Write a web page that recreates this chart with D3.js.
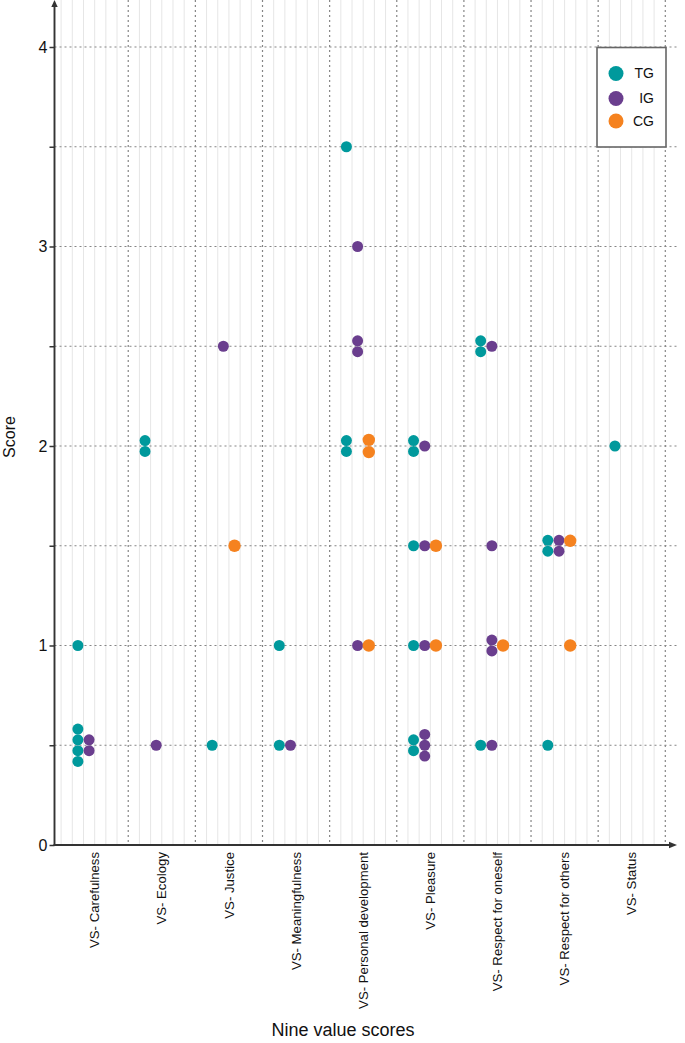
<!DOCTYPE html>
<html>
<head>
<meta charset="utf-8">
<script src="https://cdn.jsdelivr.net/npm/d3@7"></script>
<style>
  html, body { margin: 0; padding: 0; background: #fff; }
  svg { display: block; font-family: "Liberation Sans", Arial, sans-serif; }
</style>
</head>
<body>
<div id="chart"></div>
<script>
// ---- data ----
const categories = [
  "VS- Carefulness", "VS- Ecology", "VS- Justice", "VS- Meaningfulness",
  "VS- Personal development", "VS- Pleasure", "VS- Respect for oneself",
  "VS- Respect for others", "VS- Status"
];
const groups = ["TG", "IG", "CG"];
// one list of individual scores per category, per group
const tgScores = [
  [1, 0.5, 0.5, 0.5, 0.5],
  [2, 2],
  [0.5],
  [1, 0.5],
  [3.5, 2, 2],
  [2, 2, 1.5, 1, 0.5, 0.5],
  [2.5, 2.5, 0.5],
  [1.5, 1.5, 0.5],
  [2]
];
const igScores = [
  [0.5, 0.5],
  [0.5],
  [2.5],
  [0.5],
  [3, 2.5, 2.5, 1],
  [2, 1.5, 1, 0.5, 0.5, 0.5],
  [2.5, 1.5, 1, 1, 0.5],
  [1.5, 1.5],
  []
];
const cgScores = [
  [],
  [],
  [1.5],
  [],
  [2, 2, 1],
  [1.5, 1],
  [1],
  [1.525, 1],
  []
];
const yTicks = [0, 0.5, 1, 1.5, 2, 2.5, 3, 3.5, 4];
const yTickLabels = ["0", "", "1", "", "2", "", "3", "", "4"];

// ---- styles ----
const colors = { TG: "#00999c", IG: "#6a3e8e", CG: "#f5821f" };
const radius = { TG: 5.5, IG: 5.5, CG: 6.2 };

const W = 685, H = 1043;
const svg = d3.select("#chart").append("svg").attr("width", W).attr("height", H);

const axisX = 54.5, axisY = 845;
const x = d3.scaleBand().domain(categories).range([61.1, 665.3]).padding(0);
const sub = x.bandwidth() / 6;
const xg = d3.scalePoint().domain(groups).range([1.5 * sub, 3.5 * sub]);
const y = d3.scaleLinear().domain([0, 4]).range([axisY, 47]);

// light sub-grid lines
const subLines = [x(categories[0])];
categories.forEach(c => { for (let k = 1; k <= 5; k++) subLines.push(x(c) + k * sub); });
svg.append("g").selectAll("line").data(subLines).join("line")
  .attr("x1", d => d).attr("x2", d => d).attr("y1", 0).attr("y2", axisY)
  .attr("stroke", "#e6e6e6").attr("stroke-width", 1);

// dashed category separators
svg.append("g").selectAll("line").data(categories).join("line")
  .attr("x1", d => x(d) + x.bandwidth()).attr("x2", d => x(d) + x.bandwidth())
  .attr("y1", 0).attr("y2", axisY)
  .attr("stroke", "#858585").attr("stroke-width", 1.2).attr("stroke-dasharray", "2,3");

// dashed horizontal grid
svg.append("g").selectAll("line").data(yTicks.filter(d => d > 0)).join("line")
  .attr("x1", axisX).attr("x2", 678)
  .attr("y1", d => y(d)).attr("y2", d => y(d))
  .attr("stroke", "#858585").attr("stroke-width", 1.2).attr("stroke-dasharray", "2,3");

// y axis
const yAxis = svg.append("g").attr("transform", `translate(${axisX},0)`)
  .call(d3.axisLeft(y).tickValues(yTicks).tickSize(5).tickPadding(2)
    .tickFormat((d, i) => yTickLabels[i]));
yAxis.select(".domain").remove();
yAxis.selectAll(".tick line").attr("stroke", "#333").attr("stroke-width", 1.5);
yAxis.selectAll(".tick text").style("font-size", "16px").attr("fill", "#111")
  .style("font-family", "Liberation Sans, Arial, sans-serif");

// x axis
const xAxis = svg.append("g").attr("transform", `translate(0,${axisY})`)
  .call(d3.axisBottom(x).tickSize(0));
xAxis.select(".domain").remove();
xAxis.selectAll(".tick text")
  .attr("transform", "rotate(-90)")
  .attr("x", -7).attr("y", 0).attr("dy", "0.35em")
  .style("text-anchor", "end")
  .style("font-size", "13.2px").attr("fill", "#111")
  .style("font-family", "Liberation Sans, Arial, sans-serif");

// axis lines with arrows
svg.append("line").attr("x1", axisX).attr("x2", axisX).attr("y1", axisY + 1).attr("y2", 5)
  .attr("stroke", "#333").attr("stroke-width", 1.9);
svg.append("path").attr("d", `M${axisX},0 L${axisX - 3.2},7 L${axisX + 3.2},7 Z`).attr("fill", "#333");
svg.append("line").attr("x1", axisX - 1).attr("x2", 671).attr("y1", axisY).attr("y2", axisY)
  .attr("stroke", "#333").attr("stroke-width", 1.9);
svg.append("path").attr("d", `M677,${axisY} L669,${axisY - 3.2} L669,${axisY + 3.2} Z`).attr("fill", "#333");

// axis titles
svg.append("text").attr("transform", `translate(15,437) rotate(-90)`)
  .attr("text-anchor", "middle").style("font-size", "16px").attr("fill", "#111").text("Score");
svg.append("text").attr("x", 343).attr("y", 1036)
  .attr("text-anchor", "middle").style("font-size", "18px").attr("fill", "#111").text("Nine value scores");

// points
const seriesByGroup = { TG: tgScores, IG: igScores, CG: cgScores };
const points = [];
groups.forEach(g => {
  seriesByGroup[g].forEach((vals, ci) => {
    const counts = d3.rollup(vals, v => v.length, v => v);
    const seen = new Map();
    vals.forEach(v => {
      const idx = seen.get(v) || 0; seen.set(v, idx + 1);
      points.push({ group: g, cat: categories[ci], value: v, idx, n: counts.get(v) });
    });
  });
});
svg.append("g").selectAll("circle").data(points).join("circle")
  .attr("cx", d => x(d.cat) + xg(d.group))
  .attr("cy", d => y(d.value) + (d.idx - (d.n - 1) / 2) * (2 * radius[d.group] - 0.2))
  .attr("r", d => radius[d.group])
  .attr("fill", d => colors[d.group]);

// legend
const lg = svg.append("g");
lg.append("rect").attr("x", 597).attr("y", 47.5).attr("width", 69).attr("height", 99.5)
  .attr("fill", "#fff").attr("stroke", "#666").attr("stroke-width", 1.6);
const legendY = [73.5, 98.5, 121];
groups.forEach((g, i) => {
  lg.append("circle").attr("cx", 616).attr("cy", legendY[i]).attr("r", 7.5).attr("fill", colors[g]);
  lg.append("text").attr("x", 654).attr("y", legendY[i]).attr("dy", "0.35em")
    .attr("text-anchor", "end").style("font-size", "14px").attr("fill", "#111").text(g);
});
</script>
</body>
</html>
